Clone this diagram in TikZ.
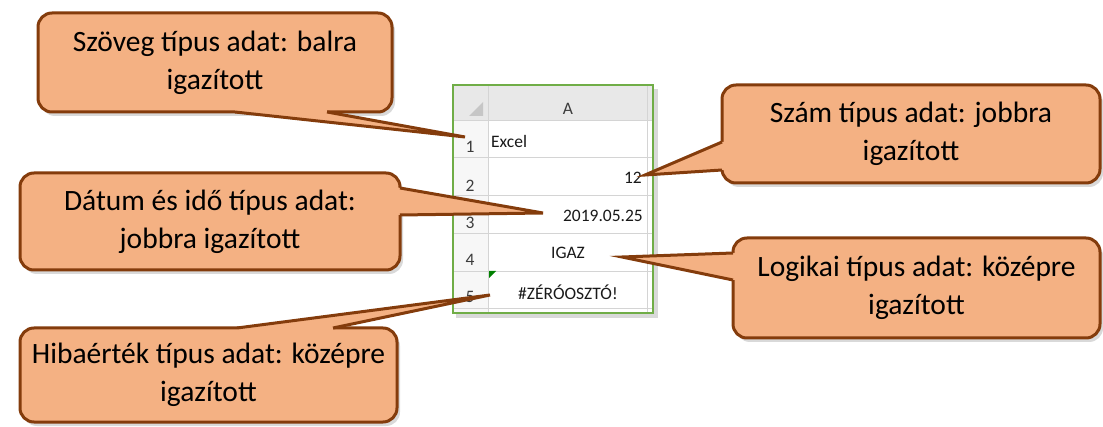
\documentclass[tikz,border=0pt]{standalone}
\usepackage{fontspec}
\setmainfont{Carlito}
\usetikzlibrary{shadows}
\definecolor{calfill}{RGB}{244,177,131}
\definecolor{calline}{RGB}{132,60,12}
\definecolor{xlgreen}{RGB}{112,173,71}
\definecolor{xlgrid}{RGB}{212,212,212}
\definecolor{xlhead}{RGB}{232,232,232}
\definecolor{xltext}{RGB}{60,60,60}
\tikzset{
  callbox/.style={draw=calline, line width=3pt, fill=calfill, rounded corners=14pt,
    align=center, inner sep=0pt, font=\fontsize{29.5}{38}\selectfont,
    drop shadow={shadow xshift=3pt, shadow yshift=-4pt, opacity=.3}},
  calltail/.style={fill=calfill},
  callside/.style={draw=calline, line width=3pt, line join=miter},
  cell/.style={inner sep=0pt, font=\fontsize{17.5}{20}\selectfont, text=black!90},
  rownum/.style={cell, text=xltext}
}
\begin{document}
\begin{tikzpicture}[x=1pt, y=-1pt]
  \useasboundingbox (0,0) rectangle (1103,427);
  % worksheet
  \fill[black, opacity=.15] (456,89) rectangle (658,318);
  \fill[white] (453,85) rectangle (653,313);
  \fill[xlhead] (453,85) rectangle (653,120);
  \fill[gray!6] (453,120) rectangle (488,313);
  \foreach \y in {120,157,195,233,271,308}
    \draw[xlgrid] (453,\y) -- (653,\y);
  \draw[xlgrid] (488,85) -- (488,313);
  \draw[xlgrid] (647,85) -- (647,313);
  \fill[gray!45] (483,102) -- (483,116) -- (469,116) -- cycle;
  \fill[green!50!black] (489,271) -- (496,271) -- (489,278) -- cycle;
  \draw[xlgreen, line width=1.5pt] (453,85) rectangle (653,313);
  \node[rownum] (hA) at (568,109) {A};
  \foreach \n/\y in {1/147,2/186,3/223,4/260,5/297}
    \node[rownum] (r\n) at (470,\y) {\n};
  \node[cell, anchor=west] (cE) at (491,141) {Excel};
  \node[cell, anchor=east] (cN) at (642,178) {12};
  \node[cell, anchor=east] (cD) at (643,216) {2019.05.25};
  \node[cell] (cL) at (568,253) {IGAZ};
  \node[cell] (cH) at (568,292) {\#ZÉRÓOSZTÓ!};
  % callout boxes
  \node[callbox, minimum width=354pt, minimum height=99pt] (SzB) at (215,62.5)
    {Szöveg típus adat: balra\\igazított};
  \node[callbox, minimum width=378pt, minimum height=98pt] (NuB) at (911,134)
    {Szám típus adat: jobbra\\igazított};
  \node[callbox, minimum width=380pt, minimum height=97pt] (DaB) at (210,221.5)
    {Dátum és idő típus adat:\\jobbra igazított};
  \node[callbox, minimum width=367pt, minimum height=100pt] (LoB) at (916.5,288)
    {Logikai típus adat: középre\\igazított};
  \node[callbox, minimum width=377pt, minimum height=94pt] (HiB) at (208.5,375)
    {Hibaérték típus adat: középre\\igazított};
  % tips
  \coordinate (SzT) at (465,137);
  \coordinate (NuT) at (645,175);
  \coordinate (DaT) at (543,213);
  \coordinate (LoT) at (622,257);
  \coordinate (HiT) at (490,295);
  % tails
  \fill[calltail] (235,112) -- (SzT) -- (327,112) -- (327,104) -- (235,104) -- cycle;
  \draw[callside] (235,112) -- (SzT) -- (327,112);
  \fill[calltail] (722,142) -- (NuT) -- (722,170) -- (730,170) -- (730,142) -- cycle;
  \draw[callside] (722,142) -- (NuT) -- (722,170);
  \fill[calltail] (400,188) -- (DaT) -- (400,215) -- (392,215) -- (392,188) -- cycle;
  \draw[callside] (400,188) -- (DaT) -- (400,215);
  \fill[calltail] (733,253) -- (LoT) -- (733,280) -- (741,280) -- (741,253) -- cycle;
  \draw[callside] (733,253) -- (LoT) -- (733,280);
  \fill[calltail] (237,328) -- (HiT) -- (333,328) -- (333,336) -- (237,336) -- cycle;
  \draw[callside] (237,328) -- (HiT) -- (333,328);
\end{tikzpicture}
\end{document}
